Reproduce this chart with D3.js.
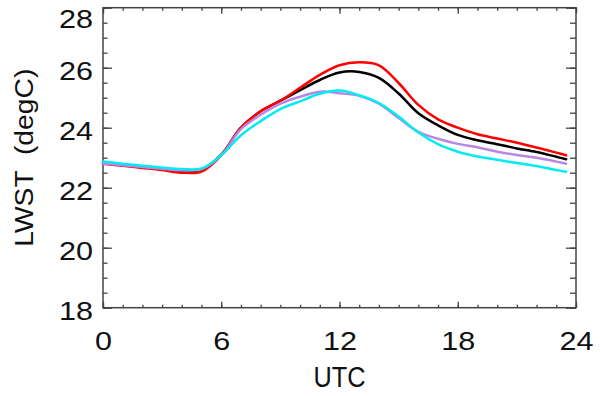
<!DOCTYPE html>
<html>
<head>
<meta charset="utf-8">
<script src="https://cdnjs.cloudflare.com/ajax/libs/d3/7.8.5/d3.min.js"></script>
<style>
  body { margin: 0; background: #fff; }
  svg { display: block; }
  text { font-family: "Liberation Sans", Arial, sans-serif; fill: #111; }
</style>
</head>
<body>
<script>
// hours (UTC) and the four LWST series (degC)
var hours = [0, 1, 2, 3, 4, 5, 6, 7, 8, 9, 10, 11, 12, 13, 14, 15, 16, 17, 18, 19, 20, 21, 22, 23, 23.5];
var redSeries = [22.80, 22.73, 22.66, 22.59, 22.50, 22.54, 23.08, 24.00, 24.55, 24.90, 25.33, 25.76, 26.08, 26.18, 26.08, 25.49, 24.76, 24.28, 24.00, 23.78, 23.64, 23.50, 23.34, 23.17, 23.08];
var blackSeries = [22.82, 22.75, 22.68, 22.62, 22.56, 22.60, 23.10, 24.00, 24.55, 24.90, 25.25, 25.59, 25.84, 25.86, 25.66, 25.14, 24.48, 24.08, 23.76, 23.58, 23.45, 23.31, 23.19, 23.03, 22.95];
var purpleSeries = [22.80, 22.75, 22.69, 22.63, 22.58, 22.62, 23.08, 23.95, 24.43, 24.80, 25.03, 25.20, 25.15, 25.06, 24.80, 24.32, 23.86, 23.63, 23.46, 23.35, 23.20, 23.09, 23.00, 22.87, 22.80];
var cyanSeries = [22.87, 22.80, 22.73, 22.67, 22.62, 22.64, 23.08, 23.75, 24.22, 24.62, 24.88, 25.13, 25.24, 25.08, 24.82, 24.37, 23.84, 23.45, 23.20, 23.04, 22.93, 22.82, 22.72, 22.59, 22.53];
var xTicks = [0, 6, 12, 18, 24];
var yTicks = [18, 20, 22, 24, 26, 28];

var width = 600, height = 396;
var margin = {left: 103, right: 24, top: 7.7, bottom: 88.3};

var svg = d3.select("body").append("svg").attr("width", width).attr("height", height);

var x = d3.scaleLinear().domain([0, 24]).range([margin.left, width - margin.right]);
var y = d3.scaleLinear().domain([18, 28]).range([height - margin.bottom, margin.top]);

//minor ticks
var xMinor = d3.range(0, 25, 1);
var yMinor = d3.range(18, 28.01, 0.5);

function noDomain(g) { g.select(".domain").remove(); }

// bottom axis
svg.append("g").attr("transform", "translate(0," + y(18) + ")")
    .call(d3.axisBottom(x).tickValues(xMinor).tickSize(-3).tickFormat("")).call(noDomain);
var xAx = svg.append("g").attr("transform", "translate(0," + y(18) + ")")
    .call(d3.axisBottom(x).tickValues(xTicks).tickSize(-6)).call(noDomain);
xAx.selectAll("text").attr("y", 42.5).attr("dy", null).attr("font-size", 26)
    .attr("textLength", function (d) { return String(d).length * 17; }).attr("lengthAdjust", "spacingAndGlyphs");

// top axis
svg.append("g").attr("transform", "translate(0," + y(28) + ")")
    .call(d3.axisTop(x).tickValues(xMinor).tickSize(-3).tickFormat("")).call(noDomain);
svg.append("g").attr("transform", "translate(0," + y(28) + ")")
    .call(d3.axisTop(x).tickValues(xTicks).tickSize(-6).tickFormat("")).call(noDomain);

// left axis
svg.append("g").attr("transform", "translate(" + x(0) + ",0)")
    .call(d3.axisLeft(y).tickValues(yMinor).tickSize(-4.5).tickFormat("")).call(noDomain);
var yAx = svg.append("g").attr("transform", "translate(" + x(0) + ",0)")
    .call(d3.axisLeft(y).tickValues(yTicks).tickSize(-9).tickPadding(10)).call(noDomain);
yAx.selectAll("text").attr("font-size", 26).attr("dy", "0.46em")
    .attr("textLength", function (d) { return String(d).length * 17; }).attr("lengthAdjust", "spacingAndGlyphs");
// top label sits lower, inside the frame
yAx.selectAll("text").filter(function (d) { return d === 28; }).attr("y", 8);

// right axis
svg.append("g").attr("transform", "translate(" + x(24) + ",0)")
    .call(d3.axisRight(y).tickValues(yMinor).tickSize(-6).tickFormat("")).call(noDomain);
svg.append("g").attr("transform", "translate(" + x(24) + ",0)")
    .call(d3.axisRight(y).tickValues(yTicks).tickSize(-10).tickFormat("")).call(noDomain);

svg.selectAll(".tick line").attr("stroke", "#444").attr("stroke-width", 1.3);

// frame
svg.append("rect").attr("x", x(0)).attr("y", y(28)).attr("width", x(24) - x(0)).attr("height", y(18) - y(28))
    .attr("fill", "none").attr("stroke", "#444").attr("stroke-width", 1.5);

// lines
var line = d3.line().x(function (d) { return x(d[0]); }).y(function (d) { return y(d[1]); }).curve(d3.curveCatmullRom.alpha(0.5));
var series = [
    {vals: blackSeries, color: "#000000"},
    {vals: redSeries, color: "#ff0000"},
    {vals: purpleSeries, color: "#b986e6"},
    {vals: cyanSeries, color: "#00ecf2"}
];
series.forEach(function (s) {
    svg.append("path").attr("d", line(d3.zip(hours, s.vals)))
        .attr("fill", "none").attr("stroke", s.color).attr("stroke-width", 2.5)
        .attr("stroke-linejoin", "round").attr("stroke-linecap", "round");
});

// axis titles
svg.append("text").attr("x", (x(0) + x(24)) / 2).attr("y", 386.5).attr("text-anchor", "middle")
    .attr("font-size", 29).attr("textLength", 52).attr("lengthAdjust", "spacingAndGlyphs").text("UTC");
svg.append("text").attr("transform", "translate(33," + ((y(18) + y(28)) / 2) + ") rotate(-90)")
    .attr("text-anchor", "middle").attr("font-size", 26).style("white-space", "pre")
    .attr("textLength", 178).attr("lengthAdjust", "spacingAndGlyphs").text("LWST  (degC)");
</script>
</body>
</html>
